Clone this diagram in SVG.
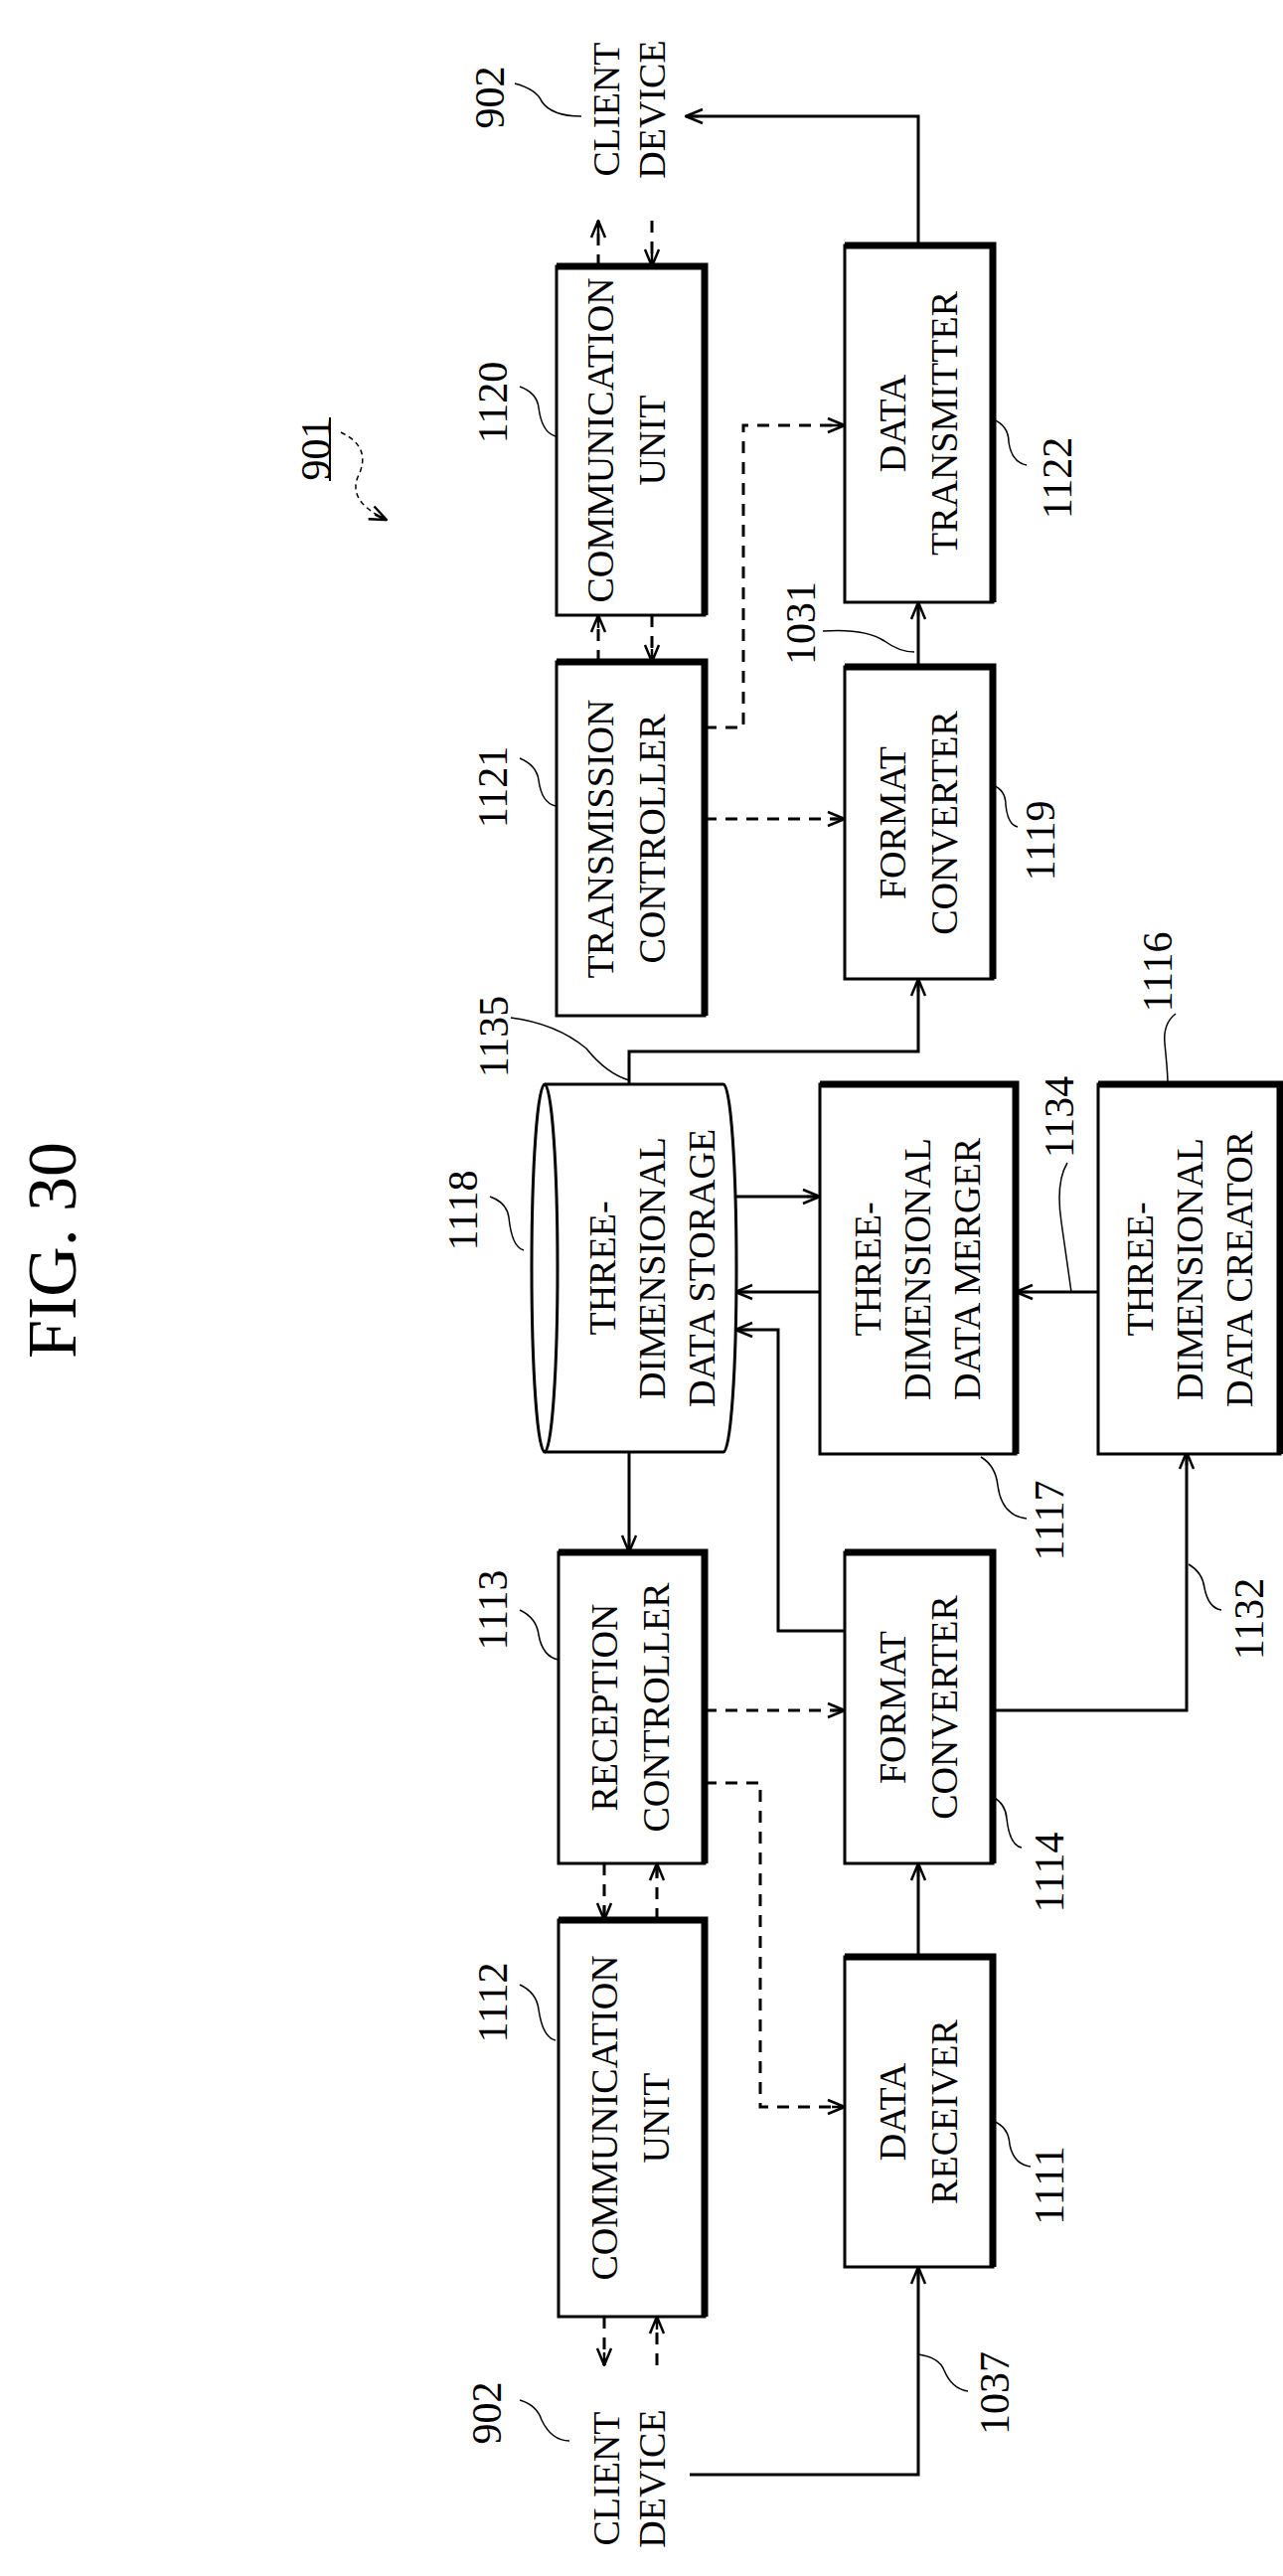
<svg xmlns="http://www.w3.org/2000/svg" width="1291" height="2592" viewBox="0 0 1291 2592">
<style>
.b{fill:#fff;stroke:#000;stroke-width:3}
.sh{fill:none;stroke:#000;stroke-width:7}
.t{font-family:"Liberation Serif",serif;font-size:38px;text-anchor:middle;dominant-baseline:central}
.n{font-family:"Liberation Serif",serif;font-size:42px;text-anchor:middle;dominant-baseline:central}
.l{fill:none;stroke:#000;stroke-width:3}
.d{fill:none;stroke:#000;stroke-width:3;stroke-dasharray:12 9}
.ld{fill:none;stroke:#000;stroke-width:1.5}
</style>
<defs>
<marker id="a" viewBox="0 0 20 20" refX="19" refY="10" markerWidth="20" markerHeight="20" markerUnits="userSpaceOnUse" orient="auto"><path d="M2,3 L19,10 L2,17 M6,10 L19,10" fill="none" stroke="#000" stroke-width="2.5"/></marker>
</defs>
<text class="n" style="font-size:70px" transform="translate(52,1258) rotate(-90)">FIG. 30</text>
<g id="label-901"><text class="n" transform="translate(318,452) rotate(-90)">901</text><line x1="332" y1="420" x2="332" y2="484" stroke="#000" stroke-width="2"/><path class="ld" d="M343,435 Q375,450 360,480 Q350,505 389,523" stroke-dasharray="5 4" marker-end="url(#a)"/></g>

<g id="connectors">
<line class="d" x1="602" y1="268" x2="602" y2="222" marker-end="url(#a)"/>
<line class="d" x1="656" y1="222" x2="656" y2="268" marker-end="url(#a)"/>
<polyline class="l" points="924,247 924,117 690,117" marker-end="url(#a)"/>
<line class="d" x1="602" y1="666" x2="602" y2="619" marker-end="url(#a)"/>
<line class="d" x1="656" y1="619" x2="656" y2="666" marker-end="url(#a)"/>
<polyline class="d" points="709,732 748,732 748,428 850,428" marker-end="url(#a)"/>
<line class="d" x1="709" y1="824" x2="850" y2="824" marker-end="url(#a)"/>
<line class="l" x1="924" y1="671" x2="924" y2="606" marker-end="url(#a)"/>
<polyline class="l" points="633,1091 633,1058 924,1058 924,985" marker-end="url(#a)"/>
<line class="l" x1="740" y1="1204" x2="825" y2="1204" marker-end="url(#a)"/>
<line class="l" x1="825" y1="1300" x2="740" y2="1300" marker-end="url(#a)"/>
<line class="l" x1="1105" y1="1300" x2="1022" y2="1300" marker-end="url(#a)"/>
<polyline class="l" points="850,1641 783,1641 783,1338 740,1338" marker-end="url(#a)"/>
<line class="l" x1="633" y1="1461" x2="633" y2="1562" marker-end="url(#a)"/>
<line class="d" x1="709" y1="1721" x2="850" y2="1721" marker-end="url(#a)"/>
<polyline class="d" points="709,1794 765,1794 765,2120 850,2120" marker-end="url(#a)"/>
<line class="d" x1="608" y1="1875" x2="608" y2="1932" marker-end="url(#a)"/>
<line class="d" x1="661" y1="1932" x2="661" y2="1875" marker-end="url(#a)"/>
<line class="d" x1="608" y1="2331" x2="608" y2="2380" marker-end="url(#a)"/>
<line class="d" x1="661" y1="2380" x2="661" y2="2331" marker-end="url(#a)"/>
<polyline class="l" points="694,2490 924,2490 924,2281" marker-end="url(#a)"/>
<line class="l" x1="924" y1="1969" x2="924" y2="1875" marker-end="url(#a)"/>
<polyline class="l" points="999,1721 1194,1721 1194,1461" marker-end="url(#a)"/>
</g>

<g id="client-top"><text class="t" transform="translate(630,110) rotate(-90)"><tspan x="0" y="-20">CLIENT</tspan><tspan x="0" y="26">DEVICE</tspan></text><text class="n" transform="translate(493,98) rotate(-90)">902</text><path class="ld" d="M518,84 Q540,90 545,102 Q555,117 585,117"/></g>
<g id="client-bottom"><text class="t" transform="translate(630,2494) rotate(-90)"><tspan x="0" y="-20">CLIENT</tspan><tspan x="0" y="26">DEVICE</tspan></text><text class="n" transform="translate(490,2428) rotate(-90)">902</text><path class="ld" d="M523,2415 Q540,2420 545,2435 Q555,2456 573,2456"/></g>

<g id="n1120"><rect class="b" x="560" y="268" width="149" height="351"/><polyline class="sh" points="560,268 709,268 709,619"/><text class="t" transform="translate(630,443) rotate(-90)"><tspan x="0" y="-26">COMMUNICATION</tspan><tspan x="0" y="26">UNIT</tspan></text><text class="n" transform="translate(496,405) rotate(-90)">1120</text><path class="ld" d="M523,389 Q540,395 542,410 Q545,435 559,439"/></g>
<g id="n1121"><rect class="b" x="560" y="666" width="149" height="356"/><polyline class="sh" points="560,666 709,666 709,1022"/><text class="t" transform="translate(630,844) rotate(-90)"><tspan x="0" y="-26">TRANSMISSION</tspan><tspan x="0" y="26">CONTROLLER</tspan></text><text class="n" transform="translate(496,792) rotate(-90)">1121</text><path class="ld" d="M523,763 Q540,770 542,785 Q545,808 559,811"/></g>
<g id="n1122"><rect class="b" x="850" y="247" width="149" height="359"/><polyline class="sh" points="850,247 999,247 999,606"/><text class="t" transform="translate(924,426) rotate(-90)"><tspan x="0" y="-26">DATA</tspan><tspan x="0" y="26">TRANSMITTER</tspan></text><text class="n" transform="translate(1064,481) rotate(-90)">1122</text><path class="ld" d="M999,422 Q1015,428 1015,445 Q1018,465 1033,468"/></g>
<g id="n1119"><rect class="b" x="850" y="671" width="149" height="314"/><polyline class="sh" points="850,671 999,671 999,985"/><text class="t" transform="translate(924,828) rotate(-90)"><tspan x="0" y="-26">FORMAT</tspan><tspan x="0" y="26">CONVERTER</tspan></text><text class="n" transform="translate(1047,846) rotate(-90)">1119</text><path class="ld" d="M999,790 Q1012,795 1012,810 Q1014,830 1024,832"/></g>
<g id="label-1031"><text class="n" transform="translate(806,627) rotate(-90)">1031</text><path class="ld" d="M828,635 Q870,632 890,645 Q905,656 920,656"/></g>

<g id="n1118"><path class="b" d="M548,1091 L728,1091 A13,185 0 0 1 728,1461 L548,1461 A13,185 0 0 1 548,1091 Z"/><path class="l" d="M548,1091 A13,185 0 0 1 548,1461" stroke-width="2"/><text class="t" transform="translate(656,1276) rotate(-90)"><tspan x="0" y="-50">THREE-</tspan><tspan x="0" y="0">DIMENSIONAL</tspan><tspan x="0" y="50">DATA STORAGE</tspan></text><text class="n" transform="translate(466,1218) rotate(-90)">1118</text><path class="ld" d="M493,1204 Q510,1210 512,1225 Q515,1255 527,1258"/><text class="n" transform="translate(497,1043) rotate(-90)">1135</text><path class="ld" d="M514,1024 Q560,1030 590,1055 Q610,1080 633,1087"/></g>
<g id="n1117"><rect class="b" x="825" y="1091" width="197" height="372"/><polyline class="sh" points="825,1091 1022,1091 1022,1463"/><text class="t" transform="translate(923,1277) rotate(-90)"><tspan x="0" y="-50">THREE-</tspan><tspan x="0" y="0">DIMENSIONAL</tspan><tspan x="0" y="50">DATA MERGER</tspan></text><text class="n" transform="translate(1056,1530) rotate(-90)">1117</text><path class="ld" d="M987,1466 Q1002,1475 1004,1495 Q1008,1525 1033,1528"/></g>
<g id="n1116"><rect class="b" x="1105" y="1091" width="183" height="372"/><polyline class="sh" points="1105,1091 1288,1091 1288,1463"/><text class="t" transform="translate(1197,1277) rotate(-90)"><tspan x="0" y="-50">THREE-</tspan><tspan x="0" y="0">DIMENSIONAL</tspan><tspan x="0" y="50">DATA CREATOR</tspan></text><text class="n" transform="translate(1165,978) rotate(-90)">1116</text><path class="ld" d="M1183,1020 Q1170,1030 1172,1050 Q1175,1080 1175,1090"/></g>
<g id="label-1134"><text class="n" transform="translate(1066,1124) rotate(-90)">1134</text><path class="ld" d="M1074,1170 Q1062,1190 1068,1230 Q1075,1280 1078,1300"/></g>

<g id="n1113"><rect class="b" x="562" y="1562" width="147" height="313"/><polyline class="sh" points="562,1562 709,1562 709,1875"/><text class="t" transform="translate(634,1718) rotate(-90)"><tspan x="0" y="-26">RECEPTION</tspan><tspan x="0" y="26">CONTROLLER</tspan></text><text class="n" transform="translate(496,1620) rotate(-90)">1113</text><path class="ld" d="M523,1620 Q540,1628 542,1645 Q546,1667 562,1670"/></g>
<g id="n1112"><rect class="b" x="562" y="1932" width="147" height="399"/><polyline class="sh" points="562,1932 709,1932 709,2331"/><text class="t" transform="translate(634,2131) rotate(-90)"><tspan x="0" y="-26">COMMUNICATION</tspan><tspan x="0" y="26">UNIT</tspan></text><text class="n" transform="translate(496,2015) rotate(-90)">1112</text><path class="ld" d="M523,1997 Q540,2005 542,2022 Q546,2050 559,2053"/></g>
<g id="n1114"><rect class="b" x="850" y="1562" width="149" height="313"/><polyline class="sh" points="850,1562 999,1562 999,1875"/><text class="t" transform="translate(924,1718) rotate(-90)"><tspan x="0" y="-26">FORMAT</tspan><tspan x="0" y="26">CONVERTER</tspan></text><text class="n" transform="translate(1056,1884) rotate(-90)">1114</text><path class="ld" d="M999,1808 Q1012,1815 1013,1830 Q1016,1857 1028,1859"/></g>
<g id="n1111"><rect class="b" x="850" y="1969" width="149" height="312"/><polyline class="sh" points="850,1969 999,1969 999,2281"/><text class="t" transform="translate(924,2125) rotate(-90)"><tspan x="0" y="-26">DATA</tspan><tspan x="0" y="26">RECEIVER</tspan></text><text class="n" transform="translate(1056,2199) rotate(-90)">1111</text><path class="ld" d="M999,2134 Q1015,2140 1016,2158 Q1020,2178 1037,2180"/></g>
<g id="label-1132"><text class="n" transform="translate(1257,1629) rotate(-90)">1132</text><path class="ld" d="M1196,1574 Q1210,1582 1212,1598 Q1216,1618 1229,1620"/></g>
<g id="label-1037"><text class="n" transform="translate(1001,2408) rotate(-90)">1037</text><path class="ld" d="M924,2369 Q945,2372 950,2385 Q958,2404 974,2406"/></g>
</svg>
